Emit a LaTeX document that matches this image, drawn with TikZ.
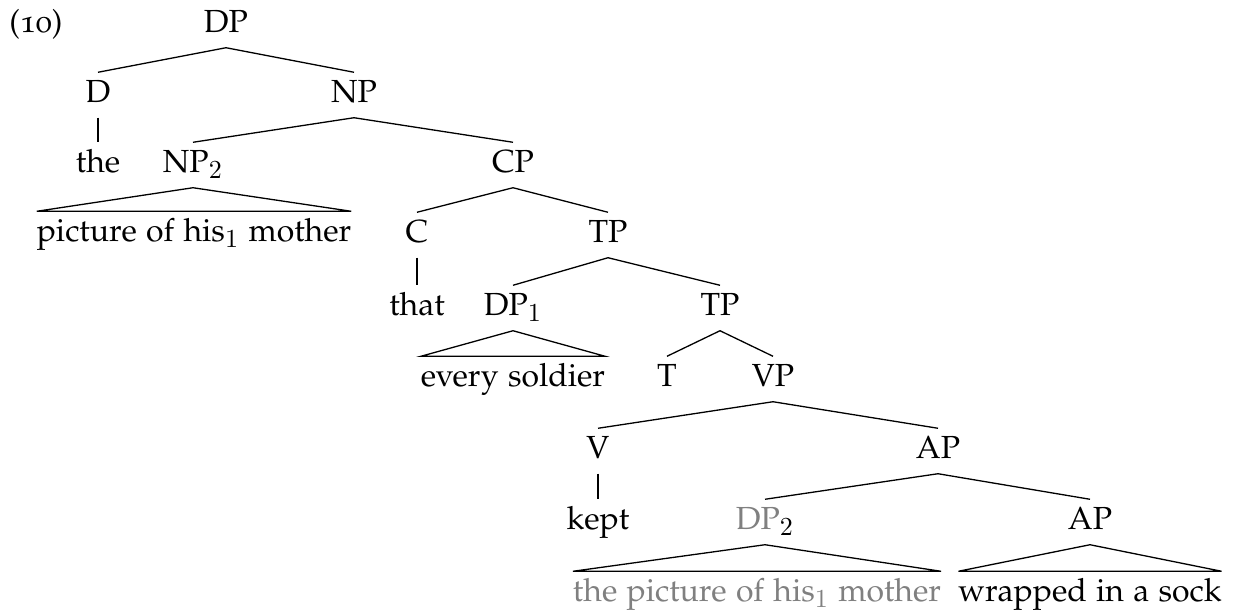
\documentclass[tikz,border=0pt]{standalone}
\usepackage{amsmath}
\usepackage[T1]{fontenc}
\renewcommand{\rmdefault}{pplj}
\usepackage{xcolor}
\usepackage{tikz}

\definecolor{lightgray}{gray}{0.5}
\DeclareMathSizes{12.3}{12.3}{10.2}{7.5}

\tikzset{leaf/.style={outer xsep=0pt}}

\begin{document}
\begin{tikzpicture}[x=0.385pt, y=-0.385pt, line width=0.5pt,
  every node/.style={font=\fontsize{12.3}{14}\selectfont, inner sep=0pt,
    text height=8.8pt, text depth=2.7pt, outer sep=3pt}]

	\useasboundingbox (0,0) rectangle (1234,613);

	\node (ex) at (36, 25)       {(10)};

	\node (dp)   at (226, 25)    {DP};
	\node (d)    at (98, 95)     {D};
	\node (np)   at (354, 95)    {NP};
	\node (the)  at (98, 165)    {the};
	\node (npb)  at (193, 165)   {NP$_2$};
	\node[leaf] (pic)  at (194, 234)   {picture of his$_1$ mother};
	\node (cp)   at (513, 165)   {CP};
	\node (c)    at (417, 235)   {C};
	\node (tp)   at (608, 235)   {TP};
	\node (that) at (417, 308)   {that};
	\node (dpa)  at (513, 308)   {DP$_1$};
	\node (tpb)  at (720, 308)   {TP};
	\node[leaf] (every) at (513, 379)  {every soldier};
	\node (t)    at (667, 379)   {T};
	\node (vp)   at (773, 379)   {VP};
	\node (v)    at (598, 451)   {V};
	\node (ap)   at (938, 451)   {AP};
	\node (kept) at (598, 522)   {kept};
	\node (dpb)  at (765, 522)   {\textcolor{lightgray}{DP}$_2$};
	\node (apb)  at (1090, 522)  {AP};
	\node[leaf] (gpic) at (757, 594)   {\color{lightgray}the picture of his$_1$ mother};
	\node[leaf] (sock) at (1090, 594)  {wrapped in a sock};

	% branches
	\path[-] (dp.south) edge (d.north);
	\path[-] (dp.south) edge (np.north);
	\path[-] (d.south) edge (the.north);
	\path[-] (np.south) edge (npb.north);
	\path[-] (np.south) edge (cp.north);
	\path[-] (cp.south) edge (c.north);
	\path[-] (cp.south) edge (tp.north);
	\path[-] (c.south) edge (that.north);
	\path[-] (tp.south) edge (dpa.north);
	\path[-] (tp.south) edge (tpb.north);
	\path[-] (tpb.south) edge (t.north);
	\path[-] (tpb.south) edge (vp.north);
	\path[-] (vp.south) edge (v.north);
	\path[-] (vp.south) edge (ap.north);
	\path[-] (v.south) edge (kept.north);
	\path[-] (ap.south) edge (dpb.north);
	\path[-] (ap.south) edge (apb.north);

	% triangles
	\draw (npb.south) -- (pic.north east) -- (pic.north west) -- cycle;
	\draw (dpa.south) -- (every.north east) -- (every.north west) -- cycle;
	\draw (dpb.south) -- (gpic.north east) -- (gpic.north west) -- cycle;
	\draw (apb.south) -- (sock.north east) -- (sock.north west) -- cycle;

\end{tikzpicture}
\end{document}
